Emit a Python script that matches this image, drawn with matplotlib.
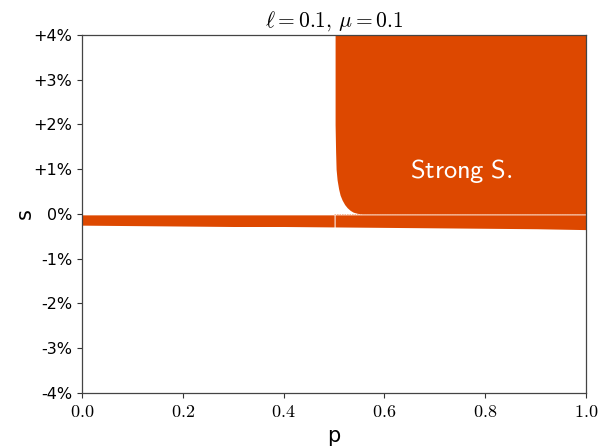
import numpy as np
import matplotlib
matplotlib.use("Agg")
import matplotlib.pyplot as plt

plt.rcParams["mathtext.fontset"] = "cm"

# lower edge of the weak band (s in %)
band_p = [0.0, 0.1, 0.2, 0.3, 0.4, 0.5, 0.6, 0.7, 0.8, 0.9, 1.0]
band_low = [-0.25, -0.26, -0.27, -0.28, -0.28, -0.29, -0.30, -0.31, -0.32, -0.33, -0.35]

# boundary of the strong region (p, s in %)
strong_p = [0.502, 0.502, 0.503, 0.504, 0.506, 0.509, 0.512, 0.516, 0.521,
            0.526, 0.532, 0.538, 0.546, 0.555, 1.0]
strong_s = [4.0, 2.0, 1.4, 1.0, 0.76, 0.56, 0.42, 0.31, 0.21,
            0.14, 0.08, 0.04, 0.015, 0.0, 0.0]

color = "#dd4800"
s_top = 4.0

fig = plt.figure(figsize=(6.13, 4.46), dpi=100)
ax = fig.add_axes([0.134, 0.119, 0.822, 0.8025])

bp = np.array(band_p)
bl = np.array(band_low)
left = bp <= 0.5
right = bp >= 0.5
ax.fill_between(bp[left], bl[left], -0.02, color=color, lw=0)
ax.fill_between(bp[right] + 0.002, bl[right], -0.02, color=color, lw=0)
ax.fill_between(strong_p, strong_s, s_top, color=color, lw=0)
ax.plot([0.5, 1.0], [-0.01, -0.01], color="#f6b08a", lw=0.6, ls=(0, (2, 1)))

ax.text(0.752, 0.95, r"$\mathsf{Strong\ S.}$", color="white", fontsize=19,
        ha="center", va="center")

ax.set_xlim(0, 1)
ax.set_ylim(-4, 4)
xt = [0.0, 0.2, 0.4, 0.6, 0.8, 1.0]
ax.set_xticks(xt)
ax.set_xticklabels([f"${v:.1f}$" for v in xt], fontsize=13)
yt = [-4, -3, -2, -1, 0, 1, 2, 3, 4]
ax.set_yticks(yt)
ax.set_yticklabels([f"+{v}%" if v > 0 else f"{v}%" for v in yt], fontsize=11.5)
ax.tick_params(length=3.5, width=0.8, color="#333333")
for sp in ax.spines.values():
    sp.set_color("#444444")
    sp.set_linewidth(0.9)

ax.set_xlabel("p", fontsize=15, labelpad=4)
ax.set_ylabel("s", fontsize=15)
ax.yaxis.set_label_coords(-0.093, 0.5)
ax.set_title(r"$\ell = 0.1,\, \mu = 0.1$", fontsize=15.5, pad=6)

fig.savefig("out.png", dpi=100)
